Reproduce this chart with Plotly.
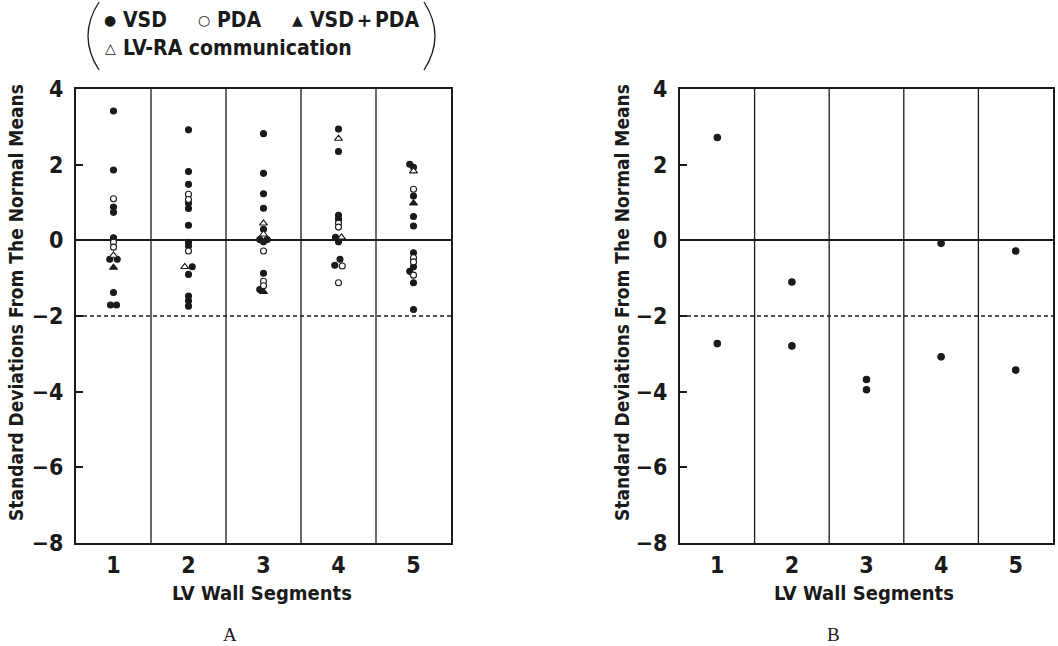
import plotly.graph_objects as go

# ---------------- data ----------------
SEGMENTS = [1, 2, 3, 4, 5]
Y_TICKS = [-8, -6, -4, -2, 0, 2, 4]
THRESHOLD = -2

# Panel A : VSD (filled circles)
A_VSD_SEG = [1]*10 + [2]*13 + [3]*10 + [4]*8 + [5]*10
A_VSD_VAL = [3.42, 1.86, 0.88, 0.74, 0.07, -0.50, -0.50, -1.38, -1.71, -1.71,
             2.92, 1.82, 1.48, 0.98, 0.84, 0.40, -0.05, -0.15, -0.70, -0.90, -1.47, -1.60, -1.74,
             2.82, 1.77, 1.23, 0.85, 0.29, 0.02, 0.02, -0.04, -0.87, -1.30,
             2.94, 2.35, 0.66, 0.56, 0.08, -0.04, -0.50, -0.66,
             2.01, 1.93, 1.17, 0.63, 0.38, -0.33, -0.70, -0.82, -1.12, -1.83]
A_VSD_DODGE = [0, 0, 0, 0, 0, -0.05, 0.05, 0, -0.04, 0.04,
               0, 0, 0, 0, 0, 0, 0, 0, 0.05, 0, 0, 0, 0,
               0, 0, 0, 0, 0, -0.05, 0.05, 0, 0, -0.05,
               0, 0, 0, 0, -0.04, 0, 0.02, -0.05,
               -0.05, 0, 0, 0, 0, 0, 0, -0.05, 0, 0]

# Panel A : PDA (open circles)
A_PDA_SEG = [1]*3 + [2]*3 + [3]*3 + [4]*4 + [5]*4
A_PDA_VAL = [1.10, -0.05, -0.18,
             1.22, 1.08, -0.28,
             -0.28, -1.08, -1.20,
             0.45, 0.35, -0.68, -1.12,
             1.35, -0.46, -0.57, -0.92]
A_PDA_DODGE = [0, 0, 0, 0, 0, 0, 0, 0, 0, 0, 0, 0.05, 0, 0, 0, 0, 0]

# Panel A : VSD + PDA (filled triangles)
A_BOTH_SEG = [1, 3, 5]
A_BOTH_VAL = [-0.72, -1.36, 0.98]

# Panel A : LV-RA communication (open triangles)
A_LVRA_SEG = [1, 2, 3, 3, 4, 4, 5]
A_LVRA_VAL = [-0.40, -0.70, 0.45, 0.16, 2.69, 0.08, 1.83]
A_LVRA_DODGE = [0, -0.05, 0, 0, 0, 0.04, 0]

# Panel B (filled circles)
B_SEG = [1, 1, 2, 2, 3, 3, 4, 4, 5, 5]
B_VAL = [2.72, -2.73, -1.10, -2.79, -3.68, -3.95, -0.08, -3.08, -0.28, -3.43]

Y_TITLE = "Standard Deviations From The Normal Means"
X_TITLE = "LV Wall Segments"
PANEL_LABELS = ["A", "B"]

# ---------------- styling ----------------
W, H = 1058, 646
COND = "DejaVu Sans Condensed, Liberation Sans Narrow, sans-serif"
SERIF = "Liberation Serif, DejaVu Serif, serif"
BLACK = "#1a1a1a"


def px_x(p):
    return p / W


def px_y(p):
    return 1 - p / H


fig = go.Figure()


def add(xaxis, yaxis, segs, vals, dodge, symbol, filled, size):
    xs = [s + d for s, d in zip(segs, dodge)]
    fig.add_trace(go.Scatter(
        x=xs, y=vals, mode="markers", xaxis=xaxis, yaxis=yaxis, showlegend=False,
        hoverinfo="skip",
        marker=dict(symbol=symbol, size=size,
                    color=BLACK if filled else "white",
                    line=dict(color=BLACK, width=1.1))))


add("x", "y", A_VSD_SEG, A_VSD_VAL, A_VSD_DODGE, "circle", True, 6)
add("x", "y", A_PDA_SEG, A_PDA_VAL, A_PDA_DODGE, "circle", False, 6)
add("x", "y", A_BOTH_SEG, A_BOTH_VAL, [0]*len(A_BOTH_SEG), "triangle-up", True, 7)
add("x", "y", A_LVRA_SEG, A_LVRA_VAL, A_LVRA_DODGE, "triangle-up", False, 7)
add("x2", "y2", B_SEG, B_VAL, [0]*len(B_SEG), "circle", True, 6.5)

dom_a = [px_x(76), px_x(451)]
dom_b = [px_x(680), px_x(1053)]
dom_y = [px_y(543), px_y(89)]

xcommon = dict(range=[0.5, 5.5], tickvals=SEGMENTS, showgrid=False, zeroline=False,
               showline=True, linecolor=BLACK, linewidth=2, mirror=True, ticks="",
               ticklabelstandoff=0, automargin=False,
               tickfont=dict(family=COND, size=23, color=BLACK, weight="bold"))
ycommon = dict(range=[-8, 4], tickvals=Y_TICKS, showgrid=False, zeroline=True,
               zerolinecolor=BLACK, zerolinewidth=1.6,
               showline=True, linecolor=BLACK, linewidth=2, mirror=True,
               ticks="inside", ticklen=7, tickwidth=1.6, tickcolor=BLACK,
               ticklabelstandoff=6, automargin=False,
               tickfont=dict(family=COND, size=23, color=BLACK, weight="bold"))

fig.update_layout(
    width=W, height=H, margin=dict(l=0, r=0, t=0, b=0, autoexpand=False),
    paper_bgcolor="white", plot_bgcolor="white",
    xaxis=dict(domain=dom_a, anchor="y", **xcommon),
    yaxis=dict(domain=dom_y, anchor="x", **ycommon),
    xaxis2=dict(domain=dom_b, anchor="y2", **xcommon),
    yaxis2=dict(domain=dom_y, anchor="x2", **ycommon),
)

shapes = []
for xr, yr in (("x", "y"), ("x2", "y2")):
    for b in [1.5, 2.5, 3.5, 4.5]:
        shapes.append(dict(type="line", xref=xr, yref=yr + " domain", x0=b, x1=b, y0=0, y1=1,
                           line=dict(color=BLACK, width=1.3), layer="below"))
    shapes.append(dict(type="line", xref=xr + " domain", yref=yr, x0=0, x1=1,
                       y0=THRESHOLD, y1=THRESHOLD,
                       line=dict(color=BLACK, width=1.4, dash="4px,3px"), layer="below"))

# legend parentheses
shapes.append(dict(type="path", xref="paper", yref="paper",
                   path=f"M {px_x(99)},{px_y(2)} Q {px_x(77)},{px_y(36)} {px_x(99)},{px_y(70)}",
                   line=dict(color=BLACK, width=1.3)))
shapes.append(dict(type="path", xref="paper", yref="paper",
                   path=f"M {px_x(424)},{px_y(2)} Q {px_x(446)},{px_y(36)} {px_x(424)},{px_y(70)}",
                   line=dict(color=BLACK, width=1.3)))
fig.update_layout(shapes=shapes)

ann = []
ytfont = dict(family=COND, size=19, color=BLACK, weight="bold")
xtfont = dict(family=COND, size=20, color=BLACK, weight="bold")
for cx, cy in ((16, 303), (622, 303)):
    ann.append(dict(text=Y_TITLE, xref="paper", yref="paper", x=px_x(cx), y=px_y(cy),
                    textangle=-90, showarrow=False, font=ytfont, xanchor="center", yanchor="middle"))
for cx in (262, 864):
    ann.append(dict(text=X_TITLE, xref="paper", yref="paper", x=px_x(cx), y=px_y(593),
                    showarrow=False, font=xtfont, xanchor="center", yanchor="middle"))
for lab, cx in zip(PANEL_LABELS, (230, 833)):
    ann.append(dict(text=lab, xref="paper", yref="paper", x=px_x(cx), y=px_y(634),
                    showarrow=False, font=dict(family=SERIF, size=19, color=BLACK),
                    xanchor="center", yanchor="middle"))

# legend entries
sym_font = dict(family="DejaVu Sans", size=14, color=BLACK)
leg_font = dict(family=COND, size=21, color=BLACK, weight="bold")
legend_items = [("●", "VSD", 110, 20), ("○", "PDA", 204, 20), ("▲", "VSD＋PDA", 297, 20),
                ("△", "LV-RA communication", 110, 48)]
for sym, txt, sx, sy in legend_items:
    ann.append(dict(text=sym, xref="paper", yref="paper", x=px_x(sx), y=px_y(sy),
                    showarrow=False, font=sym_font, xanchor="center", yanchor="middle"))
    ann.append(dict(text=txt, xref="paper", yref="paper", x=px_x(sx + 11), y=px_y(sy),
                    showarrow=False, font=leg_font, xanchor="left", yanchor="middle"))
fig.update_layout(annotations=ann)

fig.write_html("out.html", config={"displayModeBar": False},
               post_script="document.body.style.margin='0';document.body.style.overflow='hidden';")
